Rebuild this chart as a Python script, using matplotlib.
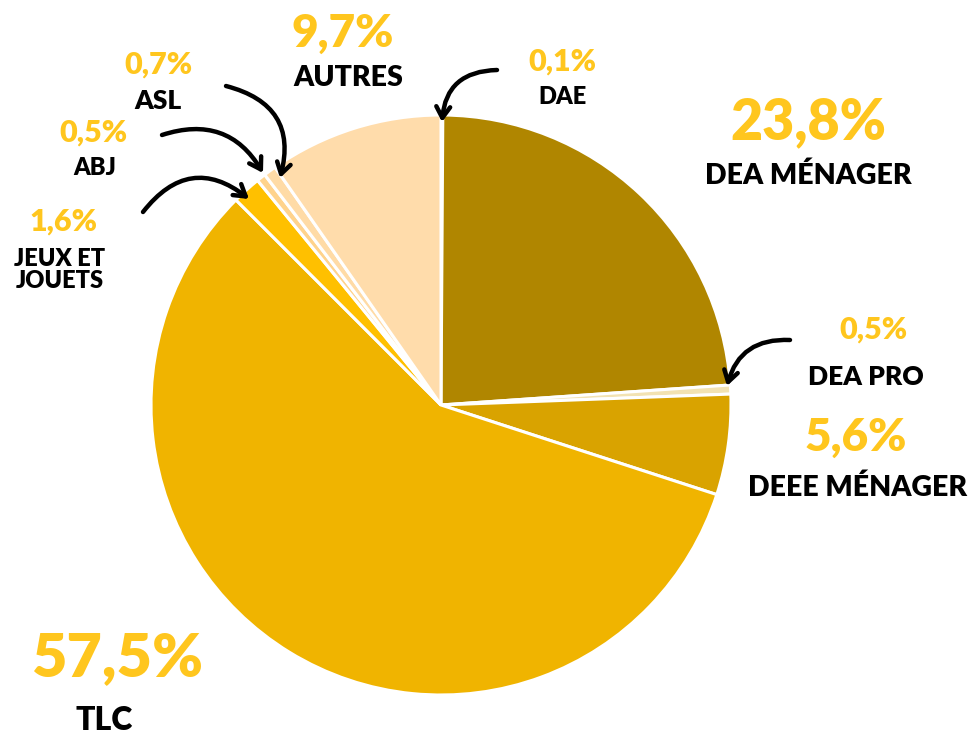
import matplotlib
matplotlib.use("Agg")
import matplotlib.pyplot as plt

categories = ["DAE", "DEA MÉNAGER", "DEA PRO", "DEEE MÉNAGER", "TLC",
              "JEUX ET\nJOUETS", "ABJ", "ASL", "AUTRES"]
values = [0.1, 23.8, 0.5, 5.6, 57.5, 1.6, 0.5, 0.7, 9.7]
pct_labels = ["0,1%", "23,8%", "0,5%", "5,6%", "57,5%", "1,6%", "0,5%", "0,7%", "9,7%"]
colors = ["#FBF0D8", "#B08600", "#F2E2B2", "#D9A300", "#F0B400",
          "#FFC000", "#FFD38C", "#FFDBA6", "#FFDCAB"]

W, H = 973, 734
fig = plt.figure(figsize=(W / 100, H / 100), dpi=100)
ax = fig.add_axes([0, 0, 1, 1])

def Y(py):
    return H - py

cx, cy, r = 441, Y(405), 290
ax.pie(values, colors=colors, startangle=90, counterclock=False,
       center=(cx, cy), radius=r, frame=True,
       wedgeprops=dict(edgecolor="white", linewidth=2.2))
ax.set_xlim(0, W)
ax.set_ylim(0, H)
ax.set_aspect("equal")
ax.axis("off")

FONT = ["Lato", "DejaVu Sans"]
YEL = "#FFC61E"

# (pct x, pct y, pct size, name x, name y, name size)
layout = {
    0: (562, 62, 22, 562, 97, 17),
    1: (808, 122, 40, 808, 176, 20.5),
    2: (873, 330, 22, 866, 377, 19),
    3: (856, 437, 33, 858, 488, 20.5),
    4: (117, 658, 44, 104, 721, 23),
    5: (63, 222, 22, 60, 270, 17),
    6: (93, 133, 22, 95, 168, 17),
    7: (158, 65, 22, 158, 101, 19),
    8: (343, 33, 33, 348, 78, 20.5),
}
for i, (px, py, ps, nx, ny, ns) in layout.items():
    ax.text(px, Y(py), pct_labels[i], color=YEL, fontsize=ps, fontweight="heavy",
            family=FONT, ha="center", va="center")
    ax.text(nx, Y(ny), categories[i], color="black", fontsize=ns, fontweight="heavy",
            family=FONT, ha="center", va="center", linespacing=1.0)

arrows = [
    ((497, 70), (442, 122), 0.45),
    ((790, 340), (727, 386), 0.4),
    ((226, 86), (280, 178), -0.5),
    ((162, 135), (263, 173), -0.4),
    ((143, 212), (249, 199), -0.5),
]
for (sx, sy), (tx, ty), rad in arrows:
    ax.annotate("", xy=(tx, Y(ty)), xytext=(sx, Y(sy)),
                arrowprops=dict(arrowstyle="->,head_length=0.8,head_width=0.5",
                                connectionstyle=f"arc3,rad={rad}",
                                color="black", lw=3.2, shrinkA=0, shrinkB=0,
                                capstyle="round", joinstyle="round"))

fig.savefig("out.png", dpi=100)
